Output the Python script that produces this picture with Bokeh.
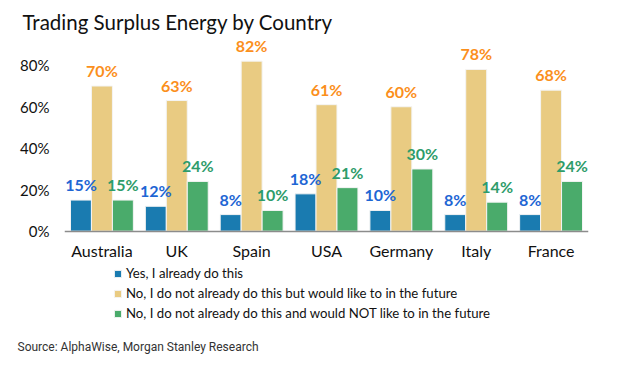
from bokeh.plotting import figure
from bokeh.models import (ColumnDataSource, FactorRange, FixedTicker, PrintfTickFormatter,
                          LabelSet, Title, Range1d, Legend, LegendItem)
from bokeh.core.properties import value
from bokeh.transform import dodge
from bokeh.embed import file_html
from bokeh.resources import INLINE

countries = ["Australia", "UK", "Spain", "USA", "Germany", "Italy", "France"]
already = [15, 12, 8, 18, 10, 8, 8]
would_like = [70, 63, 82, 61, 60, 78, 68]
would_not = [15, 24, 10, 21, 30, 14, 24]
series_names = ["Yes, I already do this",
                "No, I do not already do this but would like to in the future",
                "No, I do not already do this and would NOT like to in the future"]
y_ticks = [0, 20, 40, 60, 80]
title_text = "Trading Surplus Energy by Country"
source_text = "Source: AlphaWise, Morgan Stanley Research"

bar_colors = ["#1a7bb0", "#e9cb82", "#4aab6b"]
label_colors = ["#1e66d4", "#fb8f1c", "#2e9c6a"]

src = ColumnDataSource(dict(
    country=countries, a=already, b=would_like, c=would_not,
    at=[f"{v}%" for v in already], bt=[f"{v}%" for v in would_like], ct=[f"{v}%" for v in would_not],
))

FONT = "Lato"
# frame: top at 37px, bottom at 332px, 0% at 232px  (2.0875 px per percent point)
p = figure(width=615, height=360, x_range=FactorRange(*countries, range_padding=0),
           y_range=Range1d(-47.9, 93.4), output_backend="svg", toolbar_location=None,
           min_border_left=64, min_border_right=27, min_border_top=37, min_border_bottom=28)
p.outline_line_color = None
p.grid.grid_line_color = None
p.background_fill_color = "white"
p.border_fill_color = "white"

p.title.text = title_text
p.title.text_font = FONT
p.title.text_font_size = "20.5px"
p.title.text_font_style = "normal"
p.title.text_color = "#111111"
p.title.align = "left"
p.title.offset = -42
p.title.standoff = 8

w = 0.28
offsets = [-0.28, 0.0, 0.28]
fields = ["a", "b", "c"]
tfields = ["at", "bt", "ct"]
items = []
for i in range(3):
    r = p.vbar(x=dodge("country", offsets[i], range=p.x_range), top=fields[i], width=w, source=src,
               fill_color=bar_colors[i], line_color="#f4f4f4", line_width=1)
    items.append(LegendItem(label=series_names[i], renderers=[r]))
    p.add_layout(LabelSet(x=dodge("country", offsets[i], range=p.x_range), y=fields[i], text=tfields[i],
                          source=src, text_align="center", text_baseline="bottom", y_offset=6,
                          text_font=value(FONT), text_font_style="bold", text_font_size="16px",
                          text_color=label_colors[i]))

p.yaxis.ticker = FixedTicker(ticks=y_ticks)
p.yaxis.formatter = PrintfTickFormatter(format="%d%%")
p.yaxis.axis_line_color = None
p.yaxis.major_tick_line_color = None
p.yaxis.minor_tick_line_color = None
p.yaxis.major_tick_out = 0
p.yaxis.major_tick_in = 0
p.yaxis.major_label_text_font = FONT
p.yaxis.major_label_text_font_size = "15px"
p.yaxis.major_label_text_color = "#111111"
p.yaxis.major_label_standoff = 15

p.xaxis.fixed_location = 0
p.xaxis.axis_line_color = "#8c8c8c"
p.xaxis.axis_line_width = 1.5
p.xaxis.major_tick_line_color = None
p.xaxis.minor_tick_line_color = None
p.xaxis.major_tick_out = 0
p.xaxis.major_tick_in = 0
p.xaxis.major_label_text_font = FONT
p.xaxis.major_label_text_font_size = "16px"
p.xaxis.major_label_text_color = "#111111"
p.xaxis.major_label_standoff = 10

leg = Legend(items=items, location=(49, 7), orientation="vertical")
leg.border_line_color = None
leg.background_fill_alpha = 0
leg.padding = 0
leg.margin = 0
leg.spacing = 0
leg.glyph_width = 9
leg.glyph_height = 9
leg.label_height = 20
leg.label_standoff = 4
leg.label_text_font = FONT
leg.label_text_font_size = "13.2px"
leg.label_text_color = "#111111"
p.add_layout(leg, "center")

src_title = Title(text=source_text, align="left", offset=-47, standoff=14,
                  text_font="Roboto", text_font_size="12px", text_font_style="normal",
                  text_color="#333333")
p.add_layout(src_title, "below")

open("out.html", "w").write(file_html(p, INLINE))
